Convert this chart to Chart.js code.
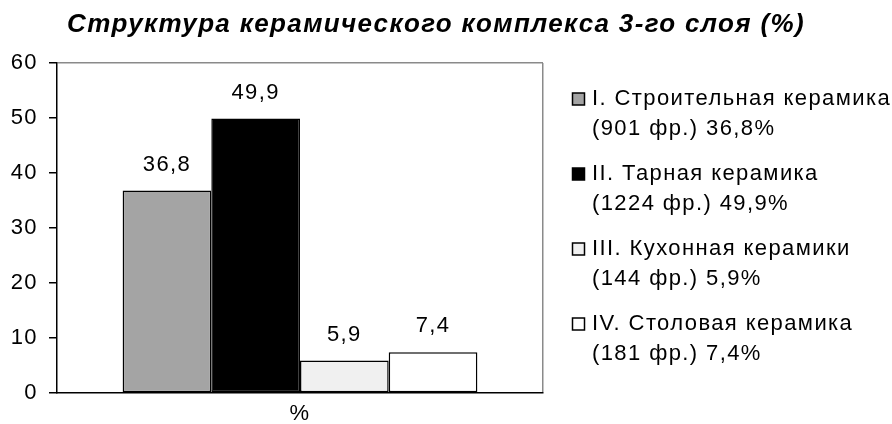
<!DOCTYPE html>
<html>
<head>
<meta charset="utf-8">
<script src="https://cdn.jsdelivr.net/npm/chart.js@4/dist/chart.umd.min.js"></script>
<style>
    html, body { margin: 0; padding: 0; background: #fff; }
</style>
</head>
<body>
<canvas id="chart" width="892" height="424"></canvas>
<script>
let categories = ["%"];
let seriesNames = ["I. Строительная керамика", "II. Тарная керамика", "III. Кухонная керамики", "IV. Столовая керамика"];
let values = [36.8, 49.9, 5.9, 7.4];
let fragments = [901, 1224, 144, 181];
let yTicks = [0, 10, 20, 30, 40, 50, 60];
let fills = ["#a4a4a4", "#000000", "#f0f0f0", "#ffffff"];

const FONT = '"Liberation Sans", Arial, sans-serif';
const SIZE = 22;
const SPACING = "1.4px";
const titleText = "Структура керамического комплекса 3-го слоя (%)";

let fmt = (v)=> String(v).replace(".", ",");

let decor = {
    id: "decor",
    beforeDraw: (chart)=> {
        chart.ctx.letterSpacing = SPACING;
    },
    afterDatasetsDraw: (chart)=> {
        let ctx = chart.ctx;
        ctx.save();
        ctx.letterSpacing = SPACING;
        ctx.font = SIZE + "px " + FONT;
        ctx.fillStyle = "#000";
        ctx.textAlign = "center";
        ctx.textBaseline = "middle";
        chart.data.datasets.forEach((ds, i)=> {
            let bar = chart.getDatasetMeta(i).data[0];
            ctx.fillText(fmt(ds.data[0]), bar.x, bar.y - 26);
        });
        ctx.restore();
    },
    afterDraw: (chart)=> {
        let ctx = chart.ctx;
        ctx.save();

        // title, stretched to the width it has in the picture
        ctx.font = "italic bold 26px " + FONT;
        ctx.letterSpacing = "0px";
        let w0 = ctx.measureText(titleText).width;
        ctx.letterSpacing = Math.max(0, (738 - w0) / titleText.length) + "px";
        ctx.fillStyle = "#000";
        ctx.textAlign = "left";
        ctx.textBaseline = "alphabetic";
        ctx.fillText(titleText, 67, 32);

        // legend
        ctx.letterSpacing = SPACING;
        ctx.font = SIZE + "px " + FONT;
        ctx.textBaseline = "middle";
        seriesNames.forEach((name, i)=> {
            let yc = 99 + 75 * i;
            ctx.fillStyle = fills[i];
            ctx.fillRect(572.5, yc - 6, 12, 12);
            ctx.lineWidth = 1.5;
            ctx.strokeStyle = "#000";
            ctx.strokeRect(572.5, yc - 6, 12, 12);
            ctx.fillStyle = "#000";
            ctx.fillText(name, 592, yc);
            ctx.fillText("(" + fragments[i] + " фр.) " + fmt(values[i]) + "%", 592, yc + 30);
        });
        ctx.restore();
    }
};

new Chart("chart", {
    type: "bar",
    data: {
        labels: categories,
        datasets: seriesNames.map((name, i)=> ({
            label: name,
            data: [values[i]],
            backgroundColor: fills[i],
            borderColor: "#000",
            borderWidth: 1.5,
            borderSkipped: false
        }))
    },
    options: {
        responsive: false,
        animation: false,
        devicePixelRatio: 1,
        layout: { padding: { top: 63, right: 349, bottom: 0, left: 0 } },
        datasets: { bar: { categoryPercentage: 0.73, barPercentage: 1 } },
        plugins: {
            legend: { display: false },
            tooltip: { enabled: false },
            title: { display: false }
        },
        scales: {
            x: {
                afterFit: (s)=> { s.height = 31; },
                grid: {
                    drawTicks: false,
                    color: (c)=> c.type === "tick" ? "rgba(0,0,0,0)" : "#8a8a8a",
                    lineWidth: 1.5
                },
                border: { color: "#000", width: 1.5 },
                ticks: { color: "#000", font: { family: FONT, size: SIZE }, padding: 8 }
            },
            y: {
                min: yTicks[0],
                max: yTicks[yTicks.length - 1],
                afterFit: (s)=> { s.width = 57; },
                afterBuildTicks: (s)=> { s.ticks = yTicks.map(v => ({ value: v })); },
                grid: {
                    color: (c)=> c.tick && c.tick.value === 60 ? "#8a8a8a" : "rgba(0,0,0,0)",
                    tickColor: "#000",
                    tickLength: 8,
                    lineWidth: 1.5
                },
                border: { color: "#000", width: 1.5 },
                ticks: { color: "#000", font: { family: FONT, size: SIZE }, padding: 11 }
            }
        }
    },
    plugins: [decor]
});
</script>
</body>
</html>
